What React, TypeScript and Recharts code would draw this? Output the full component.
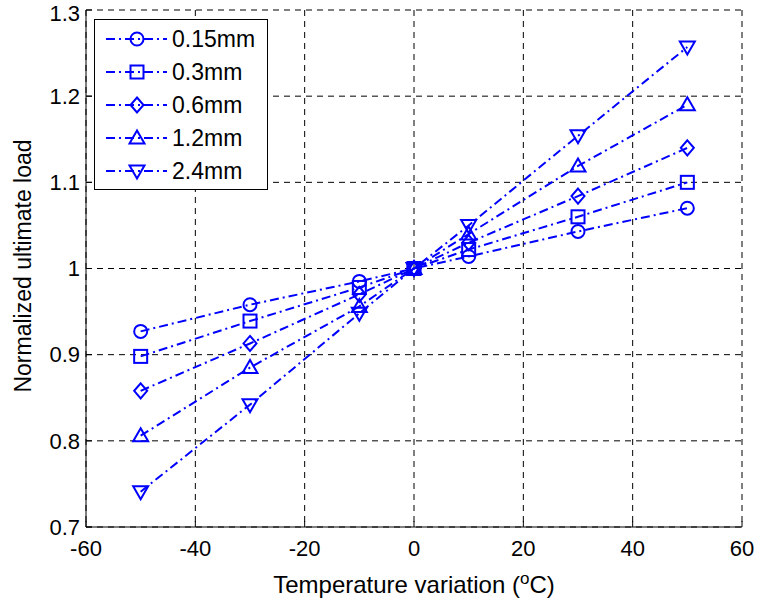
import React from "react";
import {
  LineChart,
  Line,
  XAxis,
  YAxis,
  CartesianGrid,
} from "recharts";

const temps = [-50, -30, -10, 0, 10, 30, 50];
const s015 = [0.927, 0.958, 0.985, 1.0, 1.014, 1.043, 1.07];
const s03 = [0.898, 0.939, 0.978, 1.0, 1.022, 1.06, 1.1];
const s06 = [0.858, 0.913, 0.97, 1.0, 1.03, 1.084, 1.14];
const s12 = [0.806, 0.885, 0.956, 1.0, 1.04, 1.119, 1.19];
const s24 = [0.741, 0.842, 0.948, 1.0, 1.05, 1.154, 1.257];

const xTicks = [-60, -40, -20, 0, 20, 40, 60];
const yTicks = [0.7, 0.8, 0.9, 1, 1.1, 1.2, 1.3];

const seriesNames = ["0.15mm", "0.3mm", "0.6mm", "1.2mm", "2.4mm"];
const seriesShapes = ["circle", "square", "diamond", "up", "down"];
const seriesValues = [s015, s03, s06, s12, s24];

const data = temps.map((t, i) => ({
  t,
  s0: s015[i],
  s1: s03[i],
  s2: s06[i],
  s3: s12[i],
  s4: s24[i],
}));

const BLUE = "#0000ff";
const FONT = "'Liberation Sans', Arial, sans-serif";
const DASH = "9 4 2 4";

const Marker = ({ cx, cy, shape }: { cx: number; cy: number; shape: string }) => {
  const r = 6.5;
  const common = { fill: "none", stroke: BLUE, strokeWidth: 2 };
  if (shape === "circle") return <circle cx={cx} cy={cy} r={r} {...common} />;
  if (shape === "square")
    return <rect x={cx - r} y={cy - r} width={2 * r} height={2 * r} {...common} />;
  if (shape === "diamond")
    return (
      <polygon
        points={`${cx},${cy - r - 1} ${cx + r},${cy} ${cx},${cy + r + 1} ${cx - r},${cy}`}
        {...common}
      />
    );
  if (shape === "up")
    return (
      <polygon
        points={`${cx},${cy - r - 1} ${cx + r + 1},${cy + r - 1} ${cx - r - 1},${cy + r - 1}`}
        {...common}
      />
    );
  return (
    <polygon
      points={`${cx},${cy + r + 1} ${cx + r + 1},${cy - r + 1} ${cx - r - 1},${cy - r + 1}`}
      {...common}
    />
  );
};

const makeDot = (shape: string) => (props: any) => {
  if (props.cx == null || props.cy == null) return <g key={props.index} />;
  return (
    <g key={`${shape}-${props.index}`}>
      <Marker cx={props.cx} cy={props.cy} shape={shape} />
    </g>
  );
};

const LegendBox = () => (
  <svg
    width={176}
    height={174}
    style={{ position: "absolute", left: 93, top: 18, display: "block" }}
  >
    <rect x={1.5} y={1.5} width={173} height={170} fill="#fff" stroke="#000" strokeWidth={1} />
    {seriesNames.map((name, i) => {
      const y = 21 + i * 33;
      return (
        <g key={name}>
          <line x1={13} x2={74} y1={y} y2={y} stroke={BLUE} strokeWidth={2} strokeDasharray={DASH} />
          <Marker cx={44} cy={y} shape={seriesShapes[i]} />
          <text x={79} y={y + 8} fontSize={23} fontFamily={FONT} fill="#000">
            {name}
          </text>
        </g>
      );
    })}
  </svg>
);

const XLabel = (props: any) => {
  const vb = props.viewBox || {};
  const cx = vb.x + vb.width / 2;
  return (
    <text x={cx} y={593} textAnchor="middle" fontSize={24} fontFamily={FONT} fill="#000">
      Temperature variation (
      <tspan dy={-9} fontSize={17}>o</tspan>
      <tspan dy={9}>C)</tspan>
    </text>
  );
};

const YLabel = () => (
  <text
    x={31}
    y={266}
    transform="rotate(-90, 31, 266)"
    textAnchor="middle"
    fontSize={23}
    fontFamily={FONT}
    fill="#000"
  >
    Normalized ultimate load
  </text>
);

const fmtY = (v: number) => String(Number(v.toFixed(1)));
const blank = () => "";

export default function App() {
  return (
    <div style={{ position: "absolute", left: 0, top: 0, width: 760, height: 604, background: "#fff" }}>
      <LineChart
        width={760}
        height={604}
        data={data}
        margin={{ top: 10, right: 18, bottom: 32, left: 36 }}
      >
        <CartesianGrid
          stroke="#000"
          strokeDasharray="6 5"
          strokeWidth={1}
          horizontalValues={yTicks}
          verticalValues={xTicks}
        />
        <XAxis
          dataKey="t"
          type="number"
          domain={[-60, 60]}
          ticks={xTicks}
          allowDataOverflow
          height={45}
          tickSize={-6}
          tickMargin={19}
          axisLine={{ stroke: "#000", strokeWidth: 1 }}
          tickLine={{ stroke: "#000" }}
          tick={{ fontSize: 22, fill: "#000", fontFamily: FONT }}
          label={<XLabel />}
        />
        <XAxis
          xAxisId="top"
          orientation="top"
          dataKey="t"
          type="number"
          domain={[-60, 60]}
          ticks={xTicks}
          height={0}
          tickSize={-6}
          tickFormatter={blank}
          tickLine={{ stroke: "#000" }}
          axisLine={{ stroke: "#000", strokeWidth: 1 }}
        />
        <YAxis
          type="number"
          domain={[0.7, 1.3]}
          ticks={yTicks}
          allowDataOverflow
          width={50}
          tickSize={-6}
          tickMargin={12}
          tickFormatter={fmtY}
          axisLine={{ stroke: "#000", strokeWidth: 1 }}
          tickLine={{ stroke: "#000" }}
          tick={{ fontSize: 22, fill: "#000", fontFamily: FONT }}
          label={<YLabel />}
        />
        <YAxis
          yAxisId="right"
          orientation="right"
          type="number"
          domain={[0.7, 1.3]}
          ticks={yTicks}
          width={0}
          tickSize={-6}
          tickFormatter={blank}
          tickLine={{ stroke: "#000" }}
          axisLine={{ stroke: "#000", strokeWidth: 1 }}
        />
        {seriesValues.map((_, i) => (
          <Line
            key={seriesNames[i]}
            dataKey={`s${i}`}
            name={seriesNames[i]}
            type="linear"
            stroke={BLUE}
            strokeWidth={2}
            strokeDasharray={DASH}
            dot={makeDot(seriesShapes[i])}
            activeDot={false}
            isAnimationActive={false}
          />
        ))}
      </LineChart>
      <LegendBox />
    </div>
  );
}
